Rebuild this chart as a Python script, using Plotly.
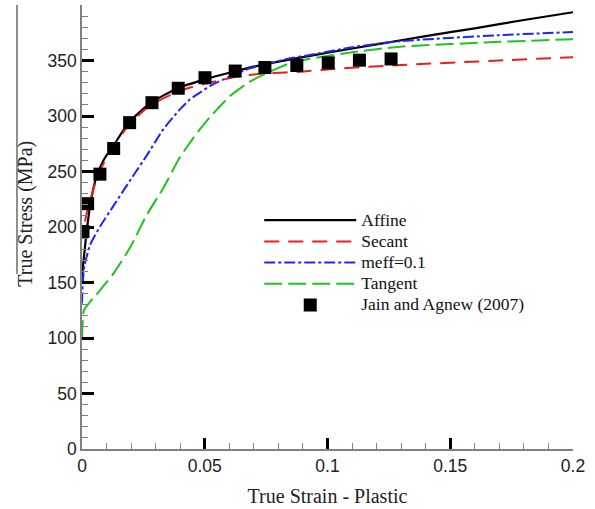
import plotly.graph_objects as go

# ---- data ----
affine_strain = [0.0, 0.0005, 0.002, 0.0035, 0.006, 0.009, 0.013, 0.019, 0.028, 0.039,
                 0.05, 0.06, 0.07, 0.08, 0.09, 0.1, 0.12, 0.14, 0.16, 0.18, 0.2]
affine_stress = [155, 167, 198, 222, 246, 261, 274, 294, 312, 325,
                 333, 339, 344.5, 349, 353, 357, 364.5, 372, 379, 386.5, 393.5]

secant_strain = [0.0012, 0.002, 0.0035, 0.006, 0.009, 0.013, 0.019, 0.028, 0.039, 0.044,
                 0.052, 0.06, 0.068, 0.077, 0.089, 0.1, 0.13, 0.17, 0.2]
secant_stress = [205, 213, 225, 244, 258, 272, 292, 310, 322, 325.6,
                 330, 334, 337, 338.7, 339.8, 342, 346, 350, 353]

meff_strain = [0.0, 0.0003, 0.001, 0.0033, 0.0075, 0.0128, 0.0196, 0.0264, 0.0331, 0.0399,
               0.044, 0.048, 0.0521, 0.0603, 0.0684, 0.0766, 0.0847, 0.0929, 0.11, 0.13,
               0.17, 0.2]
meff_stress = [131, 150, 165, 184, 201, 219, 242, 264.5, 288, 306,
               315, 321, 327, 335.7, 343, 347.5, 352, 355, 362, 367.5,
               372.8, 375.7]

tangent_strain = [0.0, 0.0003, 0.0008, 0.0073, 0.0128, 0.0196, 0.0264, 0.0331, 0.0399, 0.044,
                  0.048, 0.0521, 0.0603, 0.0684, 0.0766, 0.0847, 0.0929, 0.11, 0.1295,
                  0.1703, 0.2]
tangent_stress = [100, 115, 125, 143, 158, 181.5, 211, 235, 263, 276,
                  288, 299, 318, 331, 340, 347.5, 351.5, 357.5, 362.4,
                  366.8, 369.2]

exp_strain = [0.0004, 0.0023, 0.0073, 0.0129, 0.0194, 0.0285, 0.0392, 0.0501, 0.0624,
              0.0745, 0.0875, 0.1003, 0.113, 0.1259]
exp_stress = [196, 221, 247.6, 270.7, 294, 312, 325, 334.5, 340.5,
              343.7, 345.5, 347.9, 350.3, 351.4]

series_names = ["Affine", "Secant", "meff=0.1", "Tangent", "Jain and Agnew (2007)"]
x_ticks = [0, 0.05, 0.1, 0.15, 0.2]
x_tick_labels = ["0", "0.05", "0.1", "0.15", "0.2"]
y_ticks = [0, 50, 100, 150, 200, 250, 300, 350]
y_tick_labels = ["0", "50", "100", "150", "200", "250", "300", "350"]

SERIF = "Liberation Serif, Times New Roman, serif"
SANS = "Liberation Sans, Arial, sans-serif"


def leg(name):
    return '<span style="font-size:17.5px">' + name + '</span>'


fig = go.Figure()
fig.add_trace(go.Scatter(x=affine_strain, y=affine_stress, mode="lines", name=leg(series_names[0]),
                         line=dict(color="black", width=2.2, shape="spline", smoothing=0.5)))
fig.add_trace(go.Scatter(x=secant_strain, y=secant_stress, mode="lines", name=leg(series_names[1]),
                         line=dict(color="#ee1c1c", width=2, dash="15px,9px", shape="spline", smoothing=0.5)))
fig.add_trace(go.Scatter(x=meff_strain, y=meff_stress, mode="lines", name=leg(series_names[2]),
                         line=dict(color="#2222ff", width=2, dash="11px,3px,3px,3px", shape="spline", smoothing=0.5)))
fig.add_trace(go.Scatter(x=tangent_strain, y=tangent_stress, mode="lines", name=leg(series_names[3]),
                         line=dict(color="#1fc41f", width=2, dash="18px,6px", shape="spline", smoothing=0.5)))
fig.add_trace(go.Scatter(x=exp_strain, y=exp_stress, mode="markers", name=leg(series_names[4]),
                         marker=dict(symbol="square", size=13, color="black")))

# artefact frame line at the left of the original figure
fig.add_shape(type="line", xref="paper", yref="paper", x0=-0.1324, x1=-0.1324, y0=1.0, y1=0.394,
              line=dict(color="#222222", width=1))

fig.add_annotation(text="True Stress (MPa)", xref="paper", yref="paper", x=-0.114, y=0.53,
                   textangle=-90, showarrow=False, font=dict(family=SERIF, size=20, color="#222222"),
                   xanchor="center", yanchor="middle")

fig.update_xaxes(range=[0, 0.2], tickvals=x_ticks, ticktext=x_tick_labels,
                 showline=True, linecolor="#808080", linewidth=1.5,
                 ticks="inside", ticklen=11, tickwidth=3, tickcolor="black",
                 minor=dict(ticks="inside", ticklen=6, tickwidth=1, tickcolor="#808080", dtick=0.01),
                 showgrid=False, zeroline=False,
                 tickfont=dict(family=SANS, size=17.5, color="#222222"),
                 title=dict(text="True Strain - Plastic", font=dict(family=SERIF, size=20, color="#222222"),
                            standoff=14))
fig.update_yaxes(range=[0, 400], tickvals=y_ticks, ticktext=y_tick_labels,
                 showline=True, linecolor="#808080", linewidth=1.5,
                 ticks="inside", ticklen=12, tickwidth=3, tickcolor="black",
                 minor=dict(ticks="inside", ticklen=6, tickwidth=1, tickcolor="#808080", dtick=10),
                 showgrid=False, zeroline=False,
                 tickfont=dict(family=SANS, size=17.5, color="#222222"))

fig.update_layout(
    width=595, height=509,
    margin=dict(l=82, r=22, t=5, b=55),
    plot_bgcolor="white", paper_bgcolor="white",
    showlegend=True,
    legend=dict(x=0.361, y=0.5505, xanchor="left", yanchor="top",
                bgcolor="rgba(0,0,0,0)", itemwidth=92,
                font=dict(family=SERIF, size=14, color="#111111"),
                tracegroupgap=0, itemclick=False),
)

fig.write_html("out.html")
